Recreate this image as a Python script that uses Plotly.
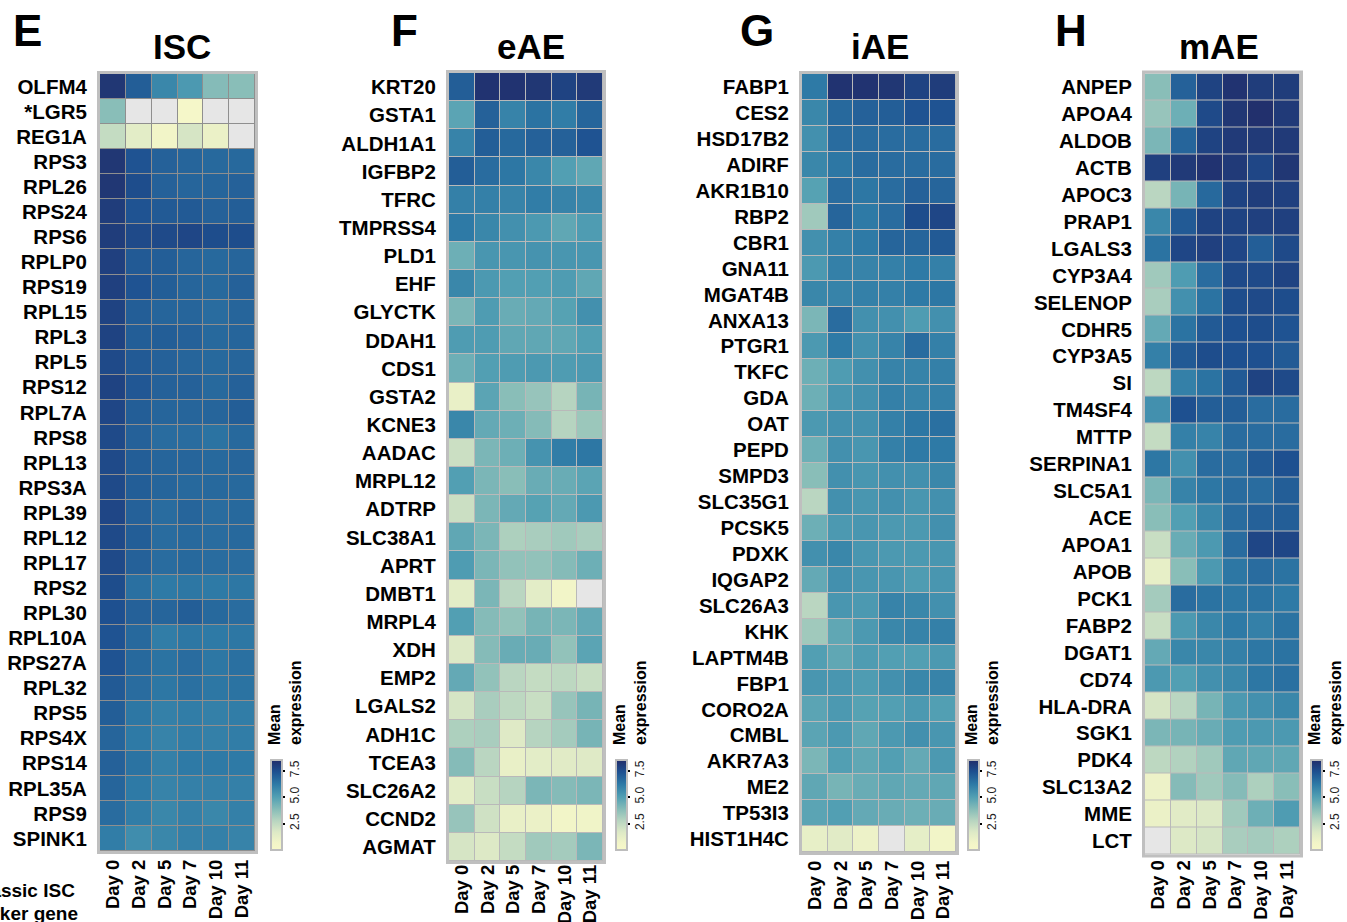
import plotly.graph_objects as go

days = ["Day 0", "Day 2", "Day 5", "Day 7", "Day 10", "Day 11"]

isc_genes = ["OLFM4", "*LGR5", "REG1A", "RPS3", "RPL26", "RPS24", "RPS6", "RPLP0", "RPS19", "RPL15",
             "RPL3", "RPL5", "RPS12", "RPL7A", "RPS8", "RPL13", "RPS3A", "RPL39", "RPL12", "RPL17",
             "RPS2", "RPL30", "RPL10A", "RPS27A", "RPL32", "RPS5", "RPS4X", "RPS14", "RPL35A", "RPS9", "SPINK1"]
isc_vals = [
    [8.2, 7.0, 5.8, 5.2, 3.9, 3.8],
    [3.8, None, None, 0.3, None, None],
    [2.4, 1.4, 0.7, 1.9, 1.0, None],
    [8.2, 7.3, 6.9, 6.8, 6.7, 6.7],
    [8.2, 7.5, 6.9, 6.8, 6.8, 6.9],
    [8.0, 7.3, 7.1, 7.1, 6.9, 7.0],
    [8.0, 7.6, 7.6, 7.7, 7.5, 7.5],
    [7.9, 7.1, 7.0, 6.8, 6.7, 6.8],
    [7.9, 7.3, 7.0, 6.8, 6.7, 6.9],
    [7.8, 7.0, 6.8, 6.8, 6.6, 6.8],
    [7.8, 7.0, 7.0, 6.9, 6.7, 6.8],
    [7.6, 7.1, 6.9, 6.8, 6.7, 6.8],
    [7.8, 7.2, 6.9, 6.9, 6.7, 6.9],
    [7.7, 7.0, 6.8, 6.8, 6.8, 7.0],
    [7.6, 6.9, 6.6, 6.6, 6.4, 6.7],
    [7.6, 7.0, 6.8, 6.8, 6.7, 6.8],
    [7.6, 7.0, 6.8, 6.7, 6.7, 6.7],
    [7.7, 6.9, 6.6, 6.8, 6.6, 6.7],
    [7.6, 7.0, 6.6, 6.7, 6.6, 6.7],
    [7.6, 6.9, 6.6, 6.7, 6.6, 6.6],
    [7.5, 6.5, 6.2, 6.3, 6.2, 6.3],
    [7.4, 6.9, 6.8, 7.0, 6.7, 6.6],
    [7.3, 6.7, 6.1, 6.3, 6.2, 6.3],
    [7.3, 6.7, 6.4, 6.6, 6.3, 6.5],
    [7.1, 6.6, 6.3, 6.5, 6.3, 6.4],
    [7.0, 6.3, 6.0, 6.1, 6.0, 6.1],
    [6.8, 6.2, 5.9, 6.1, 6.0, 6.1],
    [6.9, 6.4, 6.0, 6.2, 6.2, 6.2],
    [6.8, 6.2, 5.9, 6.0, 6.0, 6.0],
    [6.6, 6.1, 5.8, 6.0, 5.8, 6.0],
    [6.1, 5.6, 5.8, 6.0, 6.0, 5.9],
]

eae_genes = ["KRT20", "GSTA1", "ALDH1A1", "IGFBP2", "TFRC", "TMPRSS4", "PLD1", "EHF", "GLYCTK", "DDAH1",
             "CDS1", "GSTA2", "KCNE3", "AADAC", "MRPL12", "ADTRP", "SLC38A1", "APRT", "DMBT1", "MRPL4",
             "XDH", "EMP2", "LGALS2", "ADH1C", "TCEA3", "SLC26A2", "CCND2", "AGMAT"]
eae_vals = [
    [7.0, 8.3, 8.3, 8.2, 7.8, 8.1],
    [4.8, 6.9, 5.9, 6.4, 6.1, 6.8],
    [5.9, 7.0, 6.7, 6.9, 6.9, 7.3],
    [7.0, 6.6, 6.3, 5.8, 5.0, 4.7],
    [6.0, 6.0, 5.9, 6.1, 5.9, 5.8],
    [6.2, 5.8, 5.5, 5.2, 4.7, 5.1],
    [4.4, 5.3, 5.3, 5.4, 5.3, 5.3],
    [5.8, 5.2, 5.0, 5.0, 5.1, 4.7],
    [4.1, 5.1, 4.5, 4.6, 4.9, 5.5],
    [5.1, 5.1, 4.7, 4.7, 4.7, 5.0],
    [4.4, 5.0, 5.1, 5.2, 5.1, 5.2],
    [1.1, 4.8, 3.8, 3.5, 2.8, 4.2],
    [5.8, 4.6, 4.4, 3.9, 2.8, 3.4],
    [2.2, 4.1, 4.4, 5.4, 6.1, 6.3],
    [5.0, 4.1, 3.8, 4.5, 4.5, 4.8],
    [2.2, 4.1, 4.6, 4.9, 4.6, 5.2],
    [4.7, 4.1, 3.0, 3.1, 3.3, 3.1],
    [5.1, 4.1, 3.6, 3.6, 3.9, 4.4],
    [1.4, 4.1, 2.7, 1.4, 0.7, None],
    [5.0, 3.9, 3.6, 4.2, 4.1, 4.6],
    [1.7, 3.9, 4.5, 4.5, 3.6, 4.8],
    [4.6, 3.6, 2.7, 2.4, 2.6, 2.3],
    [1.9, 3.1, 2.6, 2.3, 3.5, 4.2],
    [3.0, 3.1, 1.6, 2.8, 3.2, 4.2],
    [3.9, 2.7, 1.1, 1.4, 1.5, 1.6],
    [1.4, 2.3, 2.8, 4.1, 3.9, 4.1],
    [3.5, 2.1, 1.1, 1.0, 0.7, 0.8],
    [1.9, 1.7, 2.4, 3.3, 3.2, 4.1],
]

iae_genes = ["FABP1", "CES2", "HSD17B2", "ADIRF", "AKR1B10", "RBP2", "CBR1", "GNA11", "MGAT4B", "ANXA13",
             "PTGR1", "TKFC", "GDA", "OAT", "PEPD", "SMPD3", "SLC35G1", "PCSK5", "PDXK", "IQGAP2",
             "SLC26A3", "KHK", "LAPTM4B", "FBP1", "CORO2A", "CMBL", "AKR7A3", "ME2", "TP53I3", "HIST1H4C"]
iae_vals = [
    [6.2, 8.3, 8.3, 8.2, 7.8, 8.0],
    [5.8, 6.7, 6.9, 7.0, 7.3, 7.3],
    [5.5, 6.6, 6.6, 6.6, 6.6, 6.6],
    [5.8, 6.3, 6.6, 6.6, 6.6, 6.6],
    [4.9, 6.6, 6.3, 6.6, 6.9, 6.8],
    [3.3, 6.8, 6.2, 6.6, 7.5, 7.7],
    [5.5, 6.0, 6.2, 6.8, 6.8, 7.1],
    [5.2, 6.0, 5.9, 6.0, 6.2, 6.0],
    [5.8, 5.9, 6.0, 6.0, 6.2, 6.3],
    [4.1, 6.6, 5.5, 5.5, 5.1, 5.5],
    [5.2, 6.2, 5.5, 5.9, 6.6, 6.0],
    [4.4, 5.1, 5.5, 5.9, 5.9, 6.0],
    [4.4, 5.3, 5.5, 6.0, 5.9, 6.0],
    [5.2, 5.5, 5.5, 6.0, 6.3, 6.5],
    [4.4, 5.5, 5.3, 6.0, 6.2, 6.2],
    [3.8, 5.5, 5.3, 5.5, 5.5, 5.8],
    [2.7, 5.5, 5.3, 5.5, 5.3, 5.5],
    [4.4, 5.2, 5.3, 5.2, 5.2, 5.5],
    [5.5, 5.8, 5.3, 5.2, 5.2, 5.3],
    [4.6, 5.5, 5.3, 5.3, 5.1, 5.3],
    [2.7, 5.3, 5.2, 5.9, 5.8, 5.5],
    [3.3, 4.7, 5.2, 5.8, 5.9, 6.0],
    [5.0, 4.7, 5.1, 5.0, 5.0, 5.2],
    [5.3, 5.3, 5.1, 5.5, 5.8, 5.9],
    [4.8, 5.2, 4.9, 5.0, 5.2, 5.0],
    [4.8, 5.2, 4.7, 5.2, 5.5, 5.3],
    [4.1, 5.0, 4.7, 5.0, 4.6, 5.2],
    [4.7, 4.2, 4.5, 4.7, 4.6, 4.7],
    [4.8, 5.0, 4.6, 4.5, 4.4, 4.5],
    [1.2, 1.5, 0.9, None, 1.3, 0.7],
]

mae_genes = ["ANPEP", "APOA4", "ALDOB", "ACTB", "APOC3", "PRAP1", "LGALS3", "CYP3A4", "SELENOP", "CDHR5",
             "CYP3A5", "SI", "TM4SF4", "MTTP", "SERPINA1", "SLC5A1", "ACE", "APOA1", "APOB", "PCK1",
             "FABP2", "DGAT1", "CD74", "HLA-DRA", "SGK1", "PDK4", "SLC13A2", "MME", "LCT"]
mae_vals = [
    [3.8, 6.9, 7.8, 8.3, 8.0, 8.0],
    [3.5, 4.4, 7.6, 8.2, 8.4, 8.1],
    [4.1, 6.8, 7.8, 8.1, 8.1, 8.1],
    [7.9, 8.1, 8.3, 8.1, 7.7, 8.2],
    [2.7, 4.2, 6.7, 7.8, 8.0, 7.9],
    [5.8, 7.1, 7.8, 7.8, 7.9, 7.9],
    [6.4, 7.7, 7.9, 7.7, 7.0, 7.6],
    [3.3, 5.1, 6.6, 7.6, 7.6, 7.8],
    [3.1, 5.5, 6.4, 7.5, 7.6, 7.5],
    [4.6, 6.4, 7.1, 7.4, 7.5, 7.3],
    [6.0, 7.1, 7.5, 7.4, 7.4, 7.1],
    [2.6, 6.0, 6.4, 7.1, 7.8, 7.6],
    [5.5, 7.4, 7.0, 7.0, 6.6, 6.6],
    [2.4, 6.0, 5.9, 6.6, 6.6, 6.6],
    [6.3, 5.5, 6.6, 6.6, 7.1, 7.4],
    [4.1, 5.9, 6.3, 6.6, 6.6, 7.0],
    [3.8, 5.0, 5.8, 6.6, 6.9, 7.0],
    [2.3, 4.5, 5.2, 6.6, 7.7, 7.7],
    [1.2, 3.8, 5.2, 6.3, 6.6, 6.4],
    [3.2, 6.6, 6.4, 6.3, 6.4, 6.2],
    [2.3, 5.2, 5.8, 6.2, 6.0, 6.4],
    [4.6, 5.8, 5.8, 6.0, 6.3, 6.4],
    [5.2, 5.0, 5.5, 5.8, 6.3, 6.5],
    [1.9, 2.7, 4.2, 5.2, 5.5, 5.8],
    [4.1, 4.2, 4.5, 5.1, 5.2, 5.2],
    [2.6, 2.9, 3.3, 4.7, 4.7, 4.7],
    [0.9, 3.9, 3.3, 3.9, 3.0, 3.8],
    [1.0, 1.5, 1.7, 3.3, 4.4, 5.1],
    [None, 1.7, 1.9, 3.1, 3.2, 3.0],
]

cbar_ticks = [2.5, 5.0, 7.5]
cbar_ticktext = ["2.5", "5.0", "7.5"]
footnote_lines = ["*Classic ISC", "marker gene"]

W, H = 1347, 922
ZMIN, ZMAX = 0.0, 8.5
colorscale = [
    [0.00, "#f7f8c9"],
    [0.08, "#f2f5c8"],
    [0.20, "#dde9c6"],
    [0.33, "#b6d4c0"],
    [0.45, "#88bdb8"],
    [0.59, "#519fb3"],
    [0.73, "#2e7aa6"],
    [0.87, "#1e5090"],
    [1.00, "#222d6a"],
]
FONT = "Liberation Sans, Arial, Helvetica, sans-serif"

panels = [
    dict(letter="E", title="ISC", genes=isc_genes, vals=isc_vals, xr=(100, 255), yr=(74, 851),
         gap="#8f8f8f", lx=27, tx=182, cx=271, so=4),
    dict(letter="F", title="eAE", genes=eae_genes, vals=eae_vals, xr=(449, 603), yr=(73, 861),
         gap="#b9b9b9", lx=404, tx=531, cx=616, so=-1),
    dict(letter="G", title="iAE", genes=iae_genes, vals=iae_vals, xr=(802, 956), yr=(74, 852),
         gap="#b9b9b9", lx=757, tx=880, cx=968, so=4),
    dict(letter="H", title="mAE", genes=mae_genes, vals=mae_vals, xr=(1145, 1300), yr=(73.5, 854.5),
         gap="#b9b9b9", lx=1071, tx=1219, cx=1311, so=1),
]

fig = go.Figure()
shapes = []
annotations = []
layout_axes = {}

for i, p in enumerate(panels, start=1):
    xa = "x" if i == 1 else f"x{i}"
    ya = "y" if i == 1 else f"y{i}"
    genes, vals = p["genes"], p["vals"]
    mask = [[1 if v is None else None for v in row] for row in vals]
    fig.add_trace(go.Heatmap(
        z=mask, x=days, y=genes, xaxis=xa, yaxis=ya,
        colorscale=[[0, "#e6e6e6"], [1, "#e6e6e6"]], showscale=False,
        xgap=1, ygap=1, hoverinfo="skip"))
    fig.add_trace(go.Heatmap(
        z=vals, x=days, y=genes, xaxis=xa, yaxis=ya,
        colorscale=colorscale, zmin=ZMIN, zmax=ZMAX, xgap=1, ygap=1,
        colorbar=dict(
            x=p["cx"] / W, xanchor="left", y=1 - 805 / H, yanchor="middle",
            len=90, lenmode="pixels", thickness=11, thicknessmode="pixels",
            outlinecolor="#bdbdbd", outlinewidth=2,
            tickvals=cbar_ticks, ticktext=cbar_ticktext, tickangle=-90,
            ticks="outside", ticklen=2, tickwidth=2, tickcolor="black",
            tickfont=dict(family=FONT, size=12, color="#222"),
            xpad=0, ypad=0,
        )))
    x0, x1 = p["xr"]
    y0, y1 = p["yr"]
    layout_axes["xaxis" if i == 1 else f"xaxis{i}"] = dict(
        domain=[x0 / W, x1 / W], anchor=ya, type="category", tickangle=-90,
        tickmode="array", tickvals=days, ticktext=days, automargin=False,
        tickfont=dict(family=FONT, size=18.5, color="black", weight="bold"),
        ticks="", ticklabelstandoff=p["so"],
        showgrid=False, zeroline=False, showline=False, fixedrange=True)
    layout_axes["yaxis" if i == 1 else f"yaxis{i}"] = dict(
        domain=[1 - y1 / H, 1 - y0 / H], anchor=xa, type="category", autorange="reversed",
        tickmode="array", tickvals=genes, ticktext=genes, automargin=False,
        tickfont=dict(family=FONT, size=20.5, color="black", weight="bold"),
        ticks="outside", ticklen=8, tickcolor="rgba(0,0,0,0)",
        showgrid=False, zeroline=False, showline=False, fixedrange=True)
    shapes.append(dict(type="rect", xref=f"{xa} domain", yref=f"{ya} domain",
                       x0=0, x1=1, y0=0, y1=1, layer="below", fillcolor=p["gap"], line=dict(width=0)))
    shapes.append(dict(type="rect", xref="paper", yref="paper",
                       x0=(x0 - 1.5) / W, x1=(x1 + 1.5) / W, y0=1 - (y1 + 1.5) / H, y1=1 - (y0 - 1.5) / H,
                       layer="above", line=dict(color="#bfbfbf", width=3), fillcolor="rgba(0,0,0,0)"))
    annotations.append(dict(text=p["letter"], x=p["lx"] / W, y=1 - 31 / H, xref="paper", yref="paper",
                            showarrow=False, xanchor="center", yanchor="middle",
                            font=dict(family=FONT, size=44, color="black", weight="bold")))
    annotations.append(dict(text=p["title"], x=p["tx"] / W, y=1 - 46 / H, xref="paper", yref="paper",
                            showarrow=False, xanchor="center", yanchor="middle",
                            font=dict(family=FONT, size=35, color="black", weight="bold")))
    annotations.append(dict(text="Mean<br>expression", x=(p["cx"] + 14) / W, y=1 - 747 / H,
                            xref="paper", yref="paper", showarrow=False, textangle=-90,
                            xanchor="center", yanchor="bottom", align="left",
                            font=dict(family=FONT, size=16, color="black", weight="bold")))

for line, (rx, cy) in zip(footnote_lines, [(77, 890), (80, 913)]):
    annotations.append(dict(text=line, x=rx / W, y=1 - cy / H, xref="paper", yref="paper",
                            showarrow=False, xanchor="right", yanchor="middle",
                            font=dict(family=FONT, size=19, color="black", weight="bold")))

fig.update_layout(
    width=W, height=H, margin=dict(l=0, r=0, t=0, b=0, autoexpand=False),
    paper_bgcolor="white", plot_bgcolor="white",
    shapes=shapes, annotations=annotations, showlegend=False,
    **layout_axes)

fig.write_html("out.html")
